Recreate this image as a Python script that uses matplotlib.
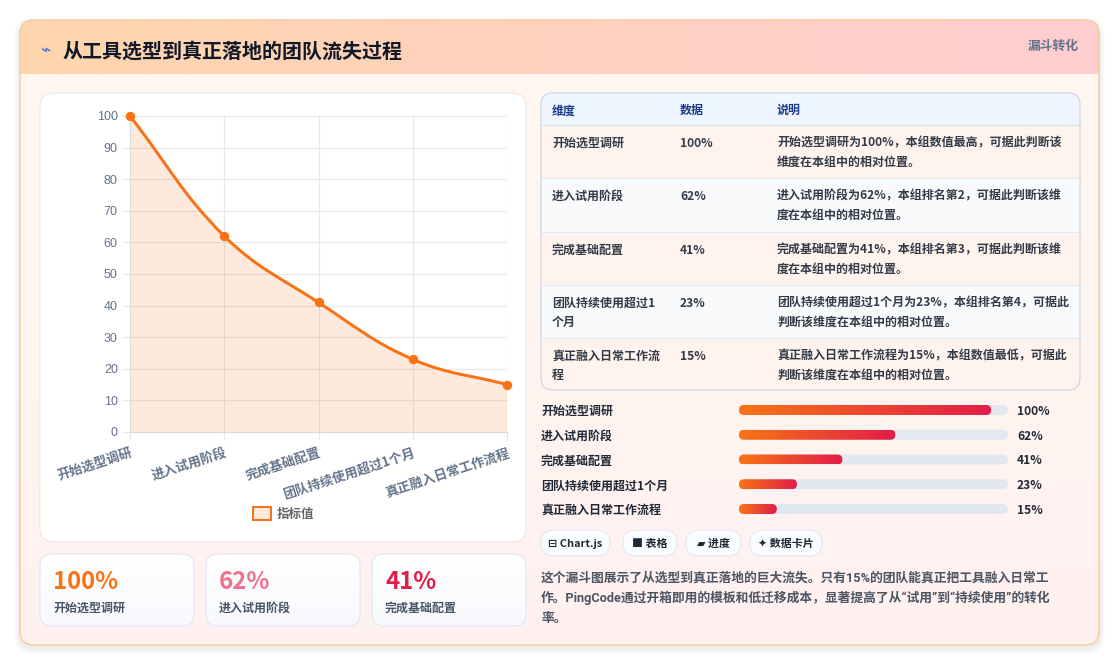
import numpy as np
import matplotlib
matplotlib.use('Agg')
import matplotlib.pyplot as plt
from matplotlib.patches import FancyBboxPatch, Rectangle, PathPatch
from matplotlib.path import Path
from matplotlib.colors import LinearSegmentedColormap, to_rgb
from matplotlib.transforms import blended_transform_factory

plt.rcParams['font.family'] = ['Noto Sans CJK SC', 'DejaVu Sans']

# ---------------- data ----------------
title = '从工具选型到真正落地的团队流失过程'
title_icon = '⌁'
badge = '漏斗转化'
stages = ['开始选型调研', '进入试用阶段', '完成基础配置', '团队持续使用超过1个月', '真正融入日常工作流程']
values = [100, 62, 41, 23, 15]
series_label = '指标值'
y_ticks = [0, 10, 20, 30, 40, 50, 60, 70, 80, 90, 100]
table_header = ['维度', '数据', '说明']
table_dim_lines = [['开始选型调研'], ['进入试用阶段'], ['完成基础配置'],
                   ['团队持续使用超过1', '个月'], ['真正融入日常工作流', '程']]
table_note_lines = [
    ['开始选型调研为100%，本组数值最高，可据此判断该', '维度在本组中的相对位置。'],
    ['进入试用阶段为62%，本组排名第2，可据此判断该维', '度在本组中的相对位置。'],
    ['完成基础配置为41%，本组排名第3，可据此判断该维', '度在本组中的相对位置。'],
    ['团队持续使用超过1个月为23%，本组排名第4，可据此', '判断该维度在本组中的相对位置。'],
    ['真正融入日常工作流程为15%，本组数值最低，可据此', '判断该维度在本组中的相对位置。'],
]
stat_count = 3
chips = ['⊟ Chart.js', '■ 表格', '▰ 进度', '✦ 数据卡片']
summary_lines = [
    '这个漏斗图展示了从选型到真正落地的巨大流失。只有15%的团队能真正把工具融入日常工',
    '作。PingCode通过开箱即用的模板和低迁移成本，显著提高了从“试用”到“持续使用”的转化',
    '率。',
]

# ---------------- style ----------------
W, H = 1120, 667
ORANGE = '#f97316'
CRIMSON = '#e11d48'
GRAY = '#64748b'
DARK = '#1f2937'
BODY = '#333b48'
PX = 0.72  # points per pixel at dpi 100
MIXED = ['Roboto', 'Noto Sans CJK SC', 'DejaVu Sans']

fig = plt.figure(figsize=(W / 100, H / 100), dpi=100)
fig.patch.set_facecolor('white')
bg = fig.add_axes([0, 0, 1, 1], zorder=0)
bg.set_xlim(0, W)
bg.set_ylim(H, 0)
bg.axis('off')
bg.set_autoscale_on(False)


def px_axes(x0, y0, x1, y1, z=2):
    return fig.add_axes([x0 / W, 1 - y1 / H, (x1 - x0) / W, (y1 - y0) / H], zorder=z)


def rbox(x0, y0, x1, y1, r, fc='none', ec='none', lw=0.0, z=1, alpha=1.0):
    p = FancyBboxPatch((x0, y0), x1 - x0, y1 - y0,
                       boxstyle=f'round,pad=0,rounding_size={r}',
                       fc=fc, ec=ec, lw=lw, zorder=z, alpha=alpha)
    bg.add_patch(p)
    return p


def grad(x0, y0, x1, y1, c0, c1, clip, z=1, horizontal=False):
    a, b = np.array(to_rgb(c0)), np.array(to_rgb(c1))
    t = np.linspace(0, 1, 256)
    if horizontal:
        img = (a[None, None, :] * (1 - t)[None, :, None] + b[None, None, :] * t[None, :, None])
    else:
        img = (a[None, None, :] * (1 - t)[:, None, None] + b[None, None, :] * t[:, None, None])
    im = bg.imshow(img, extent=(x0, x1, y1, y0), aspect='auto', zorder=z,
                   interpolation='bilinear')
    im.set_clip_path(clip)
    return im


def T(x, y, s, size, color, weight='normal', ha='left', family=None, z=5):
    kw = {}
    if family is not None:
        kw['family'] = family
    return bg.text(x, y + 0.36 * size, s, fontsize=size * PX, color=color, fontweight=weight,
                   ha=ha, va='baseline', zorder=z, **kw)


# ---------------- outer card ----------------
for i in range(1, 7):
    rbox(20 - i, 20 - i + 3, 1099 + i, 645 + i + 3, 14 + i, fc='#000000', alpha=0.010, z=0.5)
card = rbox(20, 20, 1099, 645, 14, fc='#fff6ef', z=1)
grad(20, 74, 1099, 645, '#fff8ef', '#fff1f1', card, z=1.1)
grad(20, 20, 1099, 74, '#fed6ad', '#fecdd1', card, z=1.2, horizontal=True)
rbox(20, 20, 1099, 645, 14, fc='none', ec='#f6c99c', lw=1.0, z=1.3)

T(41, 49, title_icon, 17, '#4f6fd9', 'bold', family=['DejaVu Sans'])
T(62, 50, title, 20, '#111827', 'bold')
T(1079, 45, badge, 12.8, GRAY, 'bold', ha='right')

# ---------------- chart card ----------------
rbox(40, 93, 526, 542, 14, fc='white', ec='#efe7e2', lw=0.8, z=1.5)

ax = px_axes(130, 116, 507, 432)
ax.patch.set_visible(False)
xs = np.arange(len(values))
ax.set_xlim(xs[0], xs[-1])
ax.set_ylim(0, 100)
ax.set_yticks(y_ticks)
ax.set_xticks(xs)
ax.grid(True, color='#e5e7eb', lw=0.8)
ax.set_axisbelow(True)
for k in ('top', 'right'):
    ax.spines[k].set_visible(False)
for k in ('left', 'bottom'):
    ax.spines[k].set_color('#d9d9de')
    ax.spines[k].set_linewidth(0.8)
ax.tick_params(axis='both', length=8 * PX, width=0.8, color='#e5e7eb')
ax.tick_params(axis='y', pad=3, labelsize=12.5 * PX, labelcolor=GRAY)
ax.tick_params(axis='x', pad=4)
for lab in ax.get_yticklabels():
    lab.set_family('Liberation Sans')
ax.set_xticklabels(stages, rotation=18, ha='right', rotation_mode='anchor',
                   fontsize=13 * PX, color=GRAY, fontweight='bold')

# Chart.js style bezier (tension 0.4) computed in display space
tension = 0.4
pts = ax.transData.transform(np.column_stack([xs, values]).astype(float))
n = len(pts)
cpp = pts.copy()
cpn = pts.copy()
for i in range(n):
    prev = pts[i - 1] if i > 0 else pts[i]
    cur = pts[i]
    nxt = pts[i + 1] if i < n - 1 else pts[i]
    d01 = np.hypot(*(cur - prev))
    d12 = np.hypot(*(nxt - cur))
    tot = d01 + d12
    s01 = d01 / tot if tot > 0 else 0
    s12 = d12 / tot if tot > 0 else 0
    cpp[i] = cur - tension * s01 * (nxt - prev)
    cpn[i] = cur + tension * s12 * (nxt - prev)
verts = [pts[0]]
codes = [Path.MOVETO]
for i in range(n - 1):
    verts += [cpn[i], cpp[i + 1], pts[i + 1]]
    codes += [Path.CURVE4] * 3
curve = ax.transData.inverted().transform(np.array(verts))
fill_v = np.vstack([curve, [[xs[-1], 0], [xs[0], 0], curve[0]]])
fill_c = codes + [Path.LINETO, Path.LINETO, Path.CLOSEPOLY]
ax.add_patch(PathPatch(Path(fill_v, fill_c), fc=ORANGE, alpha=0.15, ec='none', zorder=2))
ax.add_patch(PathPatch(Path(curve, codes), fc='none', ec=ORANGE, lw=3 * PX, zorder=3,
                       clip_on=False, capstyle='round', joinstyle='round'))
ax.plot(xs, values, 'o', ms=8 * PX, color=ORANGE, mec=ORANGE, zorder=4, clip_on=False)

# legend
bg.add_patch(Rectangle((253, 507), 18, 13, fc='#feeadc', ec=ORANGE, lw=2 * PX, zorder=3))
T(277, 513, series_label, 12.5, '#666666', 'bold')

# ---------------- stat cards ----------------
card_x = [(40, 194), (206, 360), (372, 526)]
stat_colors = ['#f97316', '#f0718a', '#e11d48']
for (x0, x1), s, v, c in zip(card_x, stages[:stat_count], values[:stat_count], stat_colors):
    cp = rbox(x0, 554, x1, 626, 12, fc='#fbfcff', z=1.5)
    grad(x0, 554, x1, 626, '#ffffff', '#f7f9fd', cp, z=1.55)
    rbox(x0, 554, x1, 626, 12, fc='none', ec='#dfe6f1', lw=0.8, z=1.6)
    bg.text(x0 + 13, 589, f'{v}%', fontsize=24 * PX, color=c, fontweight='heavy',
            ha='left', va='baseline', zorder=5)
    T(x0 + 13, 607, s, 12, '#475569', 'bold')

# ---------------- table ----------------
tx0, tx1, ty0, ty1 = 541, 1080, 93, 390
row_edges = [125, 178, 232, 285, 338, 390]
col_x = [552, 680, 777]
tclip = rbox(tx0, ty0, tx1, ty1, 12, fc='white', z=1.5)
hdr = Rectangle((tx0, ty0), tx1 - tx0, row_edges[0] - ty0, fc='#eef5ff', ec='none', zorder=1.6)
bg.add_patch(hdr)
hdr.set_clip_path(tclip)
for i in range(len(stages)):
    fc = '#fff4ed' if i % 2 == 0 else '#f8fafc'
    r = Rectangle((tx0, row_edges[i]), tx1 - tx0, row_edges[i + 1] - row_edges[i], fc=fc, ec='none', zorder=1.6)
    bg.add_patch(r)
    r.set_clip_path(tclip)
for i, yv in enumerate(row_edges[:-1]):
    bg.plot([tx0, tx1], [yv, yv], color='#dbe3ee' if i == 0 else '#e5e9f0', lw=0.8, zorder=1.7)
rbox(tx0, ty0, tx1, ty1, 12, fc='none', ec='#cdd6e3', lw=0.9, z=1.8)
for cx, h in zip(col_x, table_header):
    T(cx, 110, h, 12, '#1e3a8a', 'bold')
for i in range(len(stages)):
    y0 = row_edges[i] + 17.5
    for j, ln in enumerate(table_dim_lines[i]):
        T(col_x[0], y0 + 19 * j, ln, 12, BODY, 'bold')
    T(col_x[1], y0, f'{values[i]}%', 12, BODY, 'bold')
    for j, ln in enumerate(table_note_lines[i]):
        T(col_x[2], y0 + 19 * j, ln, 12, BODY, 'bold')

# ---------------- progress bars ----------------
track_max = 106.7
bax = px_axes(739, 397.6, 1008, 521.4, z=3)
bax.set_xlim(0, track_max)
bax.set_ylim(len(values) - 0.5, -0.5)
bax.axis('off')
bax.set_autoscale_on(False)
px_x = 269 / track_max
px_y = (521.4 - 397.6) / len(values)
bh = 10 / px_y
rr = 5 / px_x
asp = px_x / px_y
cmap = LinearSegmentedColormap.from_list('og', [ORANGE, CRIMSON])
for i, v in enumerate(values):
    tr = FancyBboxPatch((0, i - bh / 2), track_max, bh, boxstyle=f'round,pad=0,rounding_size={rr}',
                        mutation_aspect=asp, fc='#e2e8f0', ec='none', zorder=1)
    bax.add_patch(tr)
    fp = FancyBboxPatch((0, i - bh / 2), v, bh, boxstyle=f'round,pad=0,rounding_size={rr}',
                        mutation_aspect=asp, fc='none', ec='none', zorder=2)
    bax.add_patch(fp)
    im = bax.imshow(np.linspace(0, 1, 256)[None, :], cmap=cmap, extent=(0, v, i + bh / 2, i - bh / 2),
                    aspect='auto', zorder=2, interpolation='bilinear')
    im.set_clip_path(fp)
bax.set_xlim(0, track_max)
bax.set_ylim(len(values) - 0.5, -0.5)
mix = blended_transform_factory(bg.transData, bax.transData)
for i, (s, v) in enumerate(zip(stages, values)):
    bg.text(541, i, s, transform=mix, fontsize=12 * PX, color=DARK, fontweight='bold',
            ha='left', va='center_baseline', zorder=5)
    bg.text(1017, i, f'{v}%', transform=mix, fontsize=12 * PX, color=DARK, fontweight='bold',
            ha='left', va='center_baseline', zorder=5)

# ---------------- chips ----------------
chip_x = [(541, 610), (623, 677), (686, 741), (750, 822)]
for (x0, x1), c in zip(chip_x, chips):
    rbox(x0, 530, x1, 556, 13, fc='#fbfcff', ec='#e3e8f0', lw=0.8, z=1.6)
    bg.text((x0 + x1) / 2, 543, c, fontsize=11 * PX, color=DARK, fontweight='bold',
            ha='center', va='center_baseline', zorder=5, family=['Noto Sans CJK SC', 'DejaVu Sans'])

# ---------------- summary ----------------
for k, ln in enumerate(summary_lines):
    T(541, 577 + 20 * k, ln, 12.8, '#4b5563', 'bold', family=MIXED)

fig.savefig('out.png', dpi=100, facecolor='white')
